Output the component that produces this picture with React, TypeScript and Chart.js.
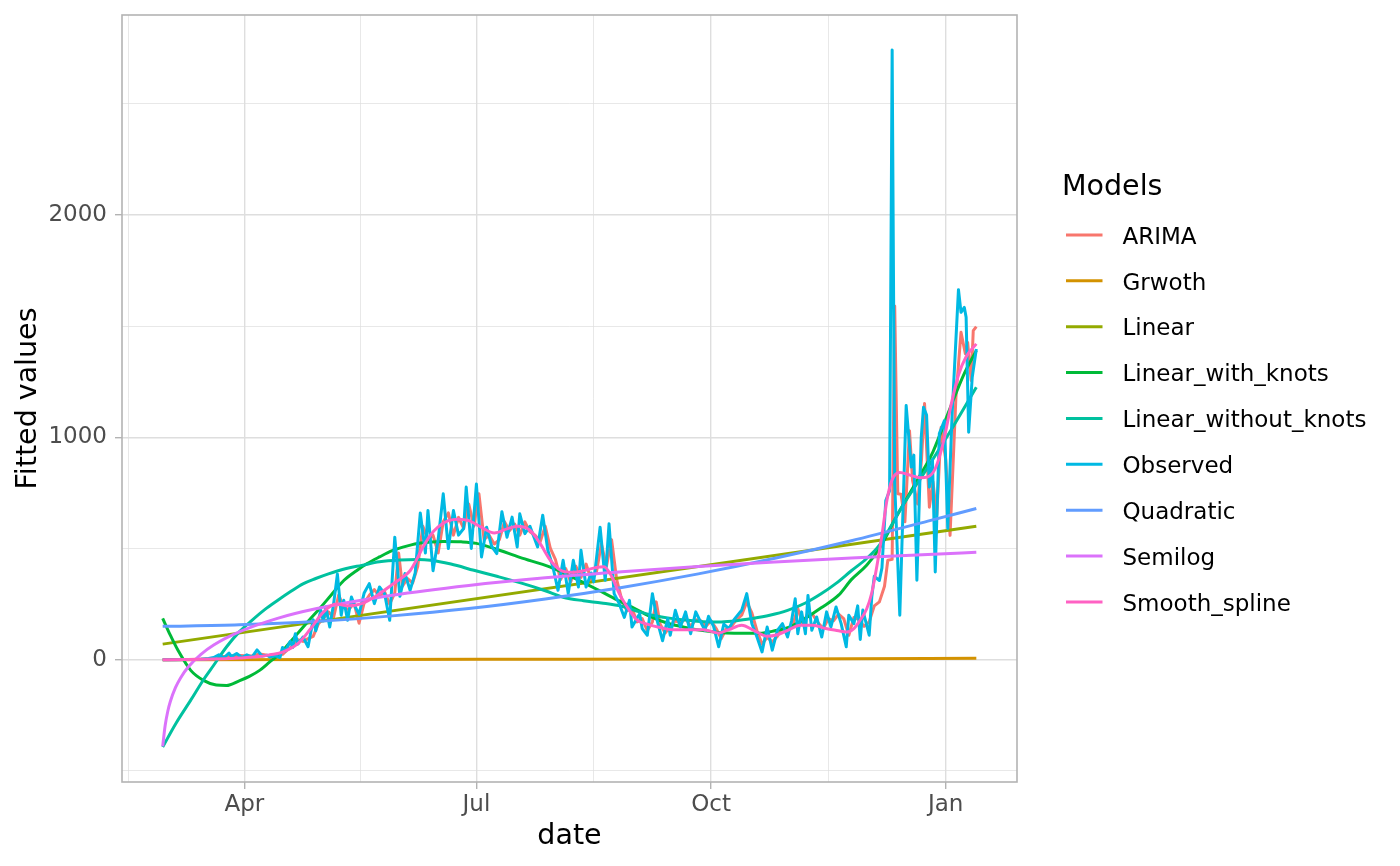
import React, { useEffect, useRef } from 'react'
import { Chart, ChartConfiguration, Plugin, registerables } from 'chart.js'

// x is days since 2020-02-29 (first day of the series)
const xTicks = [-13.5, 32, 77.5, 123, 169, 215, 261, 307]
const xTickLabels: Record<number, string> = { 32: 'Apr', 123: 'Jul', 215: 'Oct', 307: 'Jan' }
const yTicks = [-500, 0, 500, 1000, 1500, 2000, 2500]
const yTickLabels: Record<number, string> = { 0: '0', 1000: '1000', 2000: '2000' }

const models = [
  'ARIMA',
  'Grwoth',
  'Linear',
  'Linear_with_knots',
  'Linear_without_knots',
  'Observed',
  'Quadratic',
  'Semilog',
  'Smooth_spline',
]
const colors = ['#F8766D', '#D39200', '#93AA00', '#00BA38', '#00C19F', '#00B9E3', '#619CFF', '#DB72FB', '#FF61C3']

const observed: [number, number][] = [
  [0, 0], [5, 0], [10, 1], [15, 2], [18, 5], [20, 10], [22, 22], [24, 8], [26, 30], [27, 14], [29, 28], [31, 10],
  [33, 22], [35, 12], [37, 44], [39, 16], [41, 20], [42, 12], [44, 18], [46, 10], [47, 55], [48, 38], [50, 82],
  [51, 55], [52, 117], [53, 70], [55, 102], [57, 58], [59, 180], [60, 130], [62, 222], [63, 175], [64, 237],
  [65.5, 147], [67, 250], [68.5, 385], [70, 200], [71, 267], [72.5, 177], [74, 282], [75.5, 237], [77, 205],
  [79, 300], [81, 342], [83, 252], [85, 327], [87, 297], [89, 177], [91, 551], [93, 285], [95, 387], [97, 312],
  [99, 390], [101, 660], [103, 480], [104, 671], [106, 400], [108, 540], [110, 746], [112, 500], [114, 671],
  [116, 560], [118, 590], [119, 776], [121, 500], [123, 790], [125, 462], [127, 596], [129, 510], [131, 477],
  [133, 665], [135, 551], [137, 641], [139, 507], [140, 656], [142, 567], [144, 600], [147, 507], [149, 650],
  [151, 492], [153, 417], [155, 312], [157, 447], [159, 297], [161, 447], [163, 327], [164, 492], [166, 327],
  [168, 390], [169, 350], [171.5, 596], [173.5, 357], [175, 611], [177, 297], [179, 252], [181, 190], [183, 267],
  [184, 147], [187, 207], [188, 140], [190, 110], [192, 297], [194, 170], [196, 85], [198, 185], [199, 110],
  [201, 222], [203, 147], [205, 215], [207, 117], [209, 215], [210.6, 177], [212.6, 132], [214, 195], [216, 150],
  [218, 58], [220, 160], [222, 140], [224, 180], [227, 222], [229, 297], [231, 162], [233, 102], [235, 35],
  [237, 147], [239, 43], [241, 132], [243, 162], [245, 102], [246.6, 177], [248, 274], [249, 117], [250.5, 215],
  [252, 117], [253, 289], [254.5, 132], [256.4, 192], [258.4, 102], [260.3, 215], [262, 147], [264, 237],
  [266, 162], [268, 58], [269, 200], [271, 162], [272.5, 242], [273.5, 91], [274.5, 223], [277, 110], [278, 280],
  [279, 375], [281, 356], [282, 413], [283.5, 716], [285, 760], [286, 2742], [287, 792], [289, 200],
  [291.5, 1143], [293.5, 866], [294.5, 920], [295.7, 357], [297.4, 1000], [298.3, 1135], [299.5, 1100],
  [300.6, 776], [301.8, 900], [302.9, 394], [304.5, 1017], [306.5, 1075], [307.8, 590], [309.5, 1100],
  [312, 1664], [313, 1562], [314.3, 1584], [315, 1540], [316, 1023], [317.4, 1270], [319, 1397],
]

const arima: [number, number][] = [
  [0, 0], [10, 1], [20, 4], [23, 14], [26, 16], [29, 20], [32, 18], [35, 17], [38, 26], [41, 20], [44, 16],
  [47, 24], [49, 45], [51, 62], [53, 90], [55, 82], [57, 95], [59, 105], [61, 160], [63, 185], [65, 215],
  [67, 190], [69, 290], [71, 235], [73, 225], [75, 255], [77, 164], [79, 255], [81, 290], [83, 315], [85, 285],
  [87, 305], [89, 250], [91, 300], [92.5, 480], [94, 330], [96, 365], [98, 345], [100, 420], [102, 600],
  [104, 540], [106, 560], [108, 480], [110, 620], [112, 660], [114, 560], [116, 640], [118, 590], [120, 700],
  [122, 600], [124, 746], [126, 540], [128, 560], [130, 520], [132, 540], [134, 620], [136, 580], [138, 610],
  [140, 560], [142, 620], [144, 575], [146, 560], [148, 530], [150, 600], [152, 500], [154, 450], [156, 360],
  [158, 410], [160, 350], [162, 420], [164, 370], [166, 430], [168, 360], [170, 390], [172, 520], [174, 420],
  [176, 540], [178, 360], [180, 270], [182, 220], [184, 230], [186, 170], [188, 185], [190, 130], [192, 170],
  [193.5, 260], [195, 160], [197, 120], [199, 150], [201, 175], [203, 165], [205, 185], [207, 150], [209, 180],
  [211, 175], [213, 150], [215, 175], [217, 140], [219, 95], [221, 140], [223, 150], [225, 180], [227, 200],
  [229, 260], [231, 210], [233, 130], [235, 70], [237, 100], [239, 80], [241, 105], [243, 145], [245, 125],
  [247, 155], [249, 230], [251, 160], [253, 210], [255, 200], [257, 165], [259, 140], [261, 185], [263, 175],
  [265, 205], [267, 185], [269, 110], [271, 190], [273, 180], [275, 150], [277, 170], [279, 242], [281, 260],
  [283, 330], [284.3, 447], [286, 451], [287, 1591], [288.2, 746], [289.5, 744], [291, 620], [292.8, 1030],
  [294, 806], [296, 700], [297.5, 900], [298.7, 1152], [300.6, 686], [302, 800], [303.5, 650], [305.2, 1045],
  [307, 900], [308.7, 559], [311, 1180], [313, 1472], [314.7, 1376], [315.6, 1427], [317, 1255], [317.8, 1480],
  [319, 1498],
]

const growth: [number, number][] = [[0, 0], [80, 1], [160, 2], [240, 3.5], [319, 6]]

const linear: [number, number][] = [[0, 70], [319, 600]]

const linearWithKnots: [number, number][] = [
  [0, 186], [3, 110], [6, 42], [11, -48], [16, -93], [21, -114], [25, -116], [30, -95], [34, -75], [38, -48],
  [42, -10], [46, 27], [50, 80], [54, 132], [58, 185], [62, 236], [66, 290], [71, 356], [76, 400], [80, 431],
  [85, 462], [90, 490], [96, 512], [101, 525], [110, 532], [117, 530], [123, 523], [130, 500], [140, 460],
  [152, 416], [160, 375], [171, 312], [178, 270], [184, 236], [191, 195], [198, 164], [205, 145], [211, 132],
  [218, 122], [224, 119], [234, 119], [240, 130], [246, 148], [252, 186], [258, 232], [265, 290], [270, 360],
  [276, 425], [281, 500], [288, 650], [296, 810], [302, 935], [308, 1110], [314, 1280], [319, 1390],
]

const linearWithoutKnots: [number, number][] = [
  [0, -393], [5, -290], [11, -182], [16, -90], [20, -25], [25, 57], [30, 125], [35, 177], [40, 225], [45, 266],
  [50, 305], [55, 341], [60, 365], [65, 386], [72, 410], [78, 424], [85, 440], [93, 448], [100, 450], [105, 447],
  [113, 430], [122, 402], [131, 375], [141, 343], [150, 310], [157, 281], [165, 265], [172, 255], [180, 240],
  [187, 215], [192, 200], [198, 188], [205, 178], [212, 171], [219, 170], [225, 175], [231, 185], [238, 200],
  [245, 222], [252, 255], [258, 295], [264, 343], [270, 400], [276, 455], [281, 515], [290, 690], [300, 866],
  [310, 1050], [319, 1225],
]

const quadratic: [number, number][] = [
  [0, 150], [30, 157], [60, 172], [90, 197], [120, 230], [150, 273], [180, 325], [210, 386], [240, 456],
  [270, 535], [300, 623], [319, 680],
]

const semilog: [number, number][] = [
  [0, -390], [1, -294], [2, -232], [3, -188], [5, -126], [7, -82], [10, -33], [15, 24], [20, 66], [30, 125],
  [45, 186], [60, 229], [90, 290], [120, 334], [150, 368], [180, 395], [210, 419], [240, 439], [270, 457],
  [300, 473], [319, 483],
]

const smoothSpline: [number, number][] = [
  [0, 0], [10, 1], [20, 3], [30, 8], [38, 14], [42, 22], [47, 34], [53, 72], [58, 139], [63, 214], [68, 250],
  [73, 242], [78, 252], [84, 289], [90, 338], [94, 370], [97, 400], [100, 460], [102, 505], [105, 560],
  [108, 597], [112, 625], [116, 632], [120, 625], [125, 595], [130, 570], [135, 588], [139, 600], [144, 582],
  [148, 522], [152, 447], [156, 402], [160, 393], [165, 400], [170, 415], [173, 418], [176, 375], [179, 297],
  [183, 222], [186, 178], [190, 160], [195, 145], [200, 135], [206, 135], [212, 135], [218, 120], [222, 135],
  [227, 155], [232, 130], [237, 105], [241, 112], [245, 132], [250, 155], [255, 155], [260, 140], [265, 130],
  [268, 124], [271, 140], [273, 170], [276, 228], [278, 300], [280, 420], [282, 560], [284, 720], [286, 810],
  [289, 842], [293, 830], [297, 818], [300, 822], [303, 862], [306, 975], [309, 1140], [312, 1280], [315, 1362],
  [319, 1420],
]

const seriesData = [
  arima, growth, linear, linearWithKnots, linearWithoutKnots, observed, quadratic, semilog, smoothSpline,
]
const jagged = ['ARIMA', 'Observed']

const FONT = 'DejaVu Sans'
const LINE_W = 3

const panelBorder: Plugin = {
  id: 'panelBorder',
  afterDatasetsDraw(chart) {
    const { ctx, chartArea } = chart
    ctx.save()
    ctx.strokeStyle = '#b3b3b3'
    ctx.lineWidth = 1.6
    ctx.strokeRect(chartArea.left, chartArea.top, chartArea.right - chartArea.left, chartArea.bottom - chartArea.top)
    ctx.restore()
  },
}

// ggplot-like legend to the right of the panel
const sideLegend: Plugin = {
  id: 'sideLegend',
  afterDraw(chart) {
    const { ctx, chartArea } = chart
    const x0 = chartArea.right + 45
    ctx.save()
    ctx.textBaseline = 'alphabetic'
    ctx.textAlign = 'left'
    ctx.fillStyle = '#000000'
    ctx.font = `28.5px "${FONT}"`
    ctx.fillText('Models', x0, 195)
    ctx.font = `23px "${FONT}"`
    models.forEach((name, i) => {
      const y = 235 + i * 45.86
      ctx.strokeStyle = colors[i]
      ctx.lineWidth = LINE_W
      ctx.beginPath()
      ctx.moveTo(x0 + 4, y)
      ctx.lineTo(x0 + 40.5, y)
      ctx.stroke()
      ctx.fillStyle = '#000000'
      ctx.fillText(name, x0 + 60.5, y + 8.7)
    })
    ctx.restore()
  },
}

const FittedChart = () => {
  const chartRef = useRef<HTMLCanvasElement>(null)

  useEffect(() => {
    Chart.register(...registerables)

    const isMajorX = (v: number) => xTickLabels[v] !== undefined
    const isMajorY = (v: number) => yTickLabels[v] !== undefined

    const chartConfig: ChartConfiguration<'line'> = {
      type: 'line',
      data: {
        datasets: models.map((name, i) => ({
          label: name,
          data: seriesData[i].map(([x, y]) => ({ x, y })),
          borderColor: colors[i],
          backgroundColor: colors[i],
          borderWidth: LINE_W,
          borderJoinStyle: 'round',
          pointRadius: 0,
          fill: false,
          tension: jagged.includes(name) ? 0 : 0.4,
          cubicInterpolationMode: jagged.includes(name) ? 'default' : 'monotone',
          order: models.length - i,
        })),
      },
      options: {
        animation: false,
        responsive: true,
        maintainAspectRatio: false,
        events: [],
        layout: { padding: { left: 0, top: 15, right: 383, bottom: 0 } },
        plugins: {
          legend: { display: false },
          tooltip: { enabled: false },
        },
        scales: {
          x: {
            type: 'linear',
            min: -15.95,
            max: 334.95,
            afterBuildTicks: (scale) => {
              scale.ticks = xTicks.map((value) => ({ value }))
            },
            afterFit: (scale: any) => {
              scale.height = 84
              scale.paddingLeft = 0
              scale.paddingRight = 0
            },
            border: { display: false },
            grid: {
              color: '#dedede',
              lineWidth: (c: any) => (c.tick && isMajorX(c.tick.value) ? 1.4 : 0.7),
              tickLength: 7,
              tickWidth: 1.4,
              tickColor: (c: any) => (c.tick && isMajorX(c.tick.value) ? '#b3b3b3' : 'rgba(0,0,0,0)'),
            },
            ticks: {
              autoSkip: false,
              maxRotation: 0,
              padding: 2,
              color: '#4d4d4d',
              font: { family: FONT, size: 23 },
              callback: (value) => xTickLabels[value as number] ?? '',
            },
            title: {
              display: true,
              text: 'date',
              color: '#000000',
              font: { family: FONT, size: 28.5 },
              padding: { top: 0, bottom: 12 },
            },
          },
          y: {
            type: 'linear',
            min: -550,
            max: 2899,
            afterBuildTicks: (scale) => {
              scale.ticks = yTicks.map((value) => ({ value }))
            },
            afterFit: (scale: any) => {
              scale.width = 122
              scale.paddingTop = 0
              scale.paddingBottom = 0
            },
            border: { display: false },
            grid: {
              color: '#dedede',
              lineWidth: (c: any) => (c.tick && isMajorY(c.tick.value) ? 1.4 : 0.7),
              tickLength: 7,
              tickWidth: 1.4,
              tickColor: (c: any) => (c.tick && isMajorY(c.tick.value) ? '#b3b3b3' : 'rgba(0,0,0,0)'),
            },
            ticks: {
              autoSkip: false,
              padding: 8,
              color: '#4d4d4d',
              font: { family: FONT, size: 23 },
              callback: (value) => yTickLabels[value as number] ?? '',
            },
            title: {
              display: true,
              text: 'Fitted values',
              color: '#000000',
              font: { family: FONT, size: 28.5 },
              padding: { top: 11, bottom: 0 },
            },
          },
        },
      },
      plugins: [panelBorder, sideLegend],
    }

    const chart = new Chart(chartRef.current as HTMLCanvasElement, chartConfig)

    return () => {
      chart.destroy()
    }
  }, [])

  return <canvas ref={chartRef}></canvas>
}

const App = () => (
  <div style={{ position: 'absolute', left: 0, top: 0, width: 1400, height: 866, background: '#ffffff' }}>
    <FittedChart />
  </div>
)

export default App
